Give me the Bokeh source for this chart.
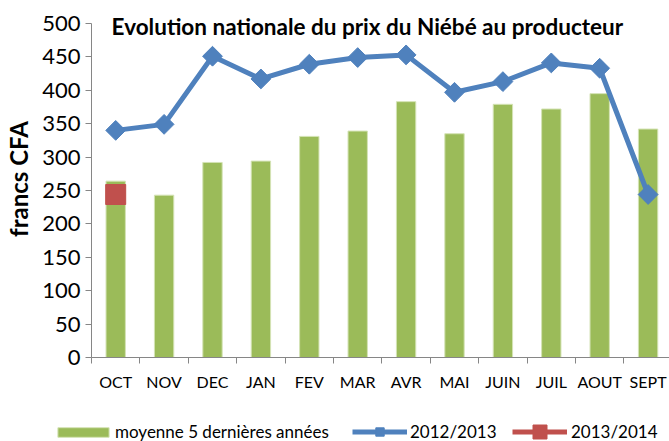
import math
from bokeh.plotting import figure
from bokeh.layouts import column
from bokeh.models import Range1d, FixedTicker, Label, Legend, LegendItem
from bokeh.embed import file_html
from bokeh.resources import INLINE

months = ["OCT", "NOV", "DEC", "JAN", "FEV", "MAR", "AVR", "MAI", "JUIN", "JUIL", "AOUT", "SEPT"]
moyenne_5ans = [264, 243, 292, 294, 331, 339, 383, 335, 379, 372, 395, 342]
prix_2012_2013 = [340, 349, 451, 417, 439, 449, 453, 397, 413, 441, 433, 244]
prix_2013_2014 = [244]
y_ticks = list(range(0, 501, 50))
series_names = ["moyenne 5 dernières années", "2012/2013", "2013/2014"]

FONT = "Lato"
GREEN = "#9BBB59"
BLUE = "#4F81BD"
RED = "#C0504D"
AXIS = "#868686"

xc = [i + 0.5 for i in range(len(months))]
bounds = list(range(len(months) + 1))

W, H_MAIN, H_LEG = 669, 411, 30
LEFT, BOTTOM = 91, 54
frame_w = W - LEFT
frame_h = H_MAIN - BOTTOM
cat_px = 48.4
axis_px = 334  # pixel height of the 0..500 axis
y_max = 500

p = figure(width=W, height=H_MAIN, output_backend="svg", toolbar_location=None,
           x_range=Range1d(0, frame_w / cat_px),
           y_range=Range1d(0, y_max * frame_h / axis_px),
           min_border_left=LEFT, min_border_right=0, min_border_top=0,
           min_border_bottom=BOTTOM)
p.outline_line_color = None
p.grid.visible = False

bar_style = dict(fill_color=GREEN, line_color="#d4e3b5", line_width=1)
blue_line = dict(line_color=BLUE, line_width=5)
blue_mark = dict(marker="square", angle=math.pi / 4, fill_color=BLUE, line_color=BLUE)
red_line = dict(line_color=RED, line_width=5)
red_mark = dict(marker="square", fill_color=RED, line_color=RED)

p.vbar(x=xc, top=moyenne_5ans, width=0.4, **bar_style)
p.line(xc, prix_2012_2013, **blue_line)
p.scatter(xc, prix_2012_2013, size=14, **blue_mark)
n2 = len(prix_2013_2014)
p.line(xc[:n2], prix_2013_2014, **red_line)
p.scatter(xc[:n2], prix_2013_2014, size=20, **red_mark)

# x axis
xa = p.xaxis[0]
xa.ticker = FixedTicker(ticks=xc, minor_ticks=bounds)
xa.major_label_overrides = {x: m for x, m in zip(xc, months)}
xa.major_tick_out = 0
xa.major_tick_in = 0
xa.minor_tick_out = 6
xa.minor_tick_in = 0
xa.minor_tick_line_color = AXIS
xa.axis_line_color = AXIS
xa.major_label_standoff = 8
xa.major_label_text_font = FONT
xa.major_label_text_font_size = "16px"
xa.major_label_text_color = "black"

# y axis
ya = p.yaxis[0]
ya.ticker = FixedTicker(ticks=y_ticks)
ya.bounds = (0, y_max)
ya.minor_tick_line_color = None
ya.major_tick_out = 6
ya.major_tick_in = 0
ya.major_tick_line_color = AXIS
ya.axis_line_color = AXIS
ya.major_label_standoff = 5
ya.major_label_text_font = FONT
ya.major_label_text_font_size = "22px"
ya.major_label_text_color = "black"
ya.axis_label = "francs CFA"
ya.axis_label_text_font = FONT
ya.axis_label_text_font_style = "bold"
ya.axis_label_text_font_size = "24px"
ya.axis_label_text_color = "black"
ya.axis_label_standoff = 6

title = Label(x=5.70, y=496, text="Evolution nationale du prix du Niébé au producteur",
              text_font=FONT, text_font_style="bold", text_font_size="22.5px",
              text_align="center", text_baseline="alphabetic", text_color="black")
p.add_layout(title)

# legend strip (proxy renderers fall outside its visible range)
pl = figure(width=W, height=H_LEG, output_backend="svg", toolbar_location=None,
            x_range=Range1d(0, 1), y_range=Range1d(1000, 1001),
            min_border_left=0, min_border_right=0, min_border_top=0, min_border_bottom=0)
pl.outline_line_color = None
pl.grid.visible = False
pl.axis.visible = False
try:
    pl.frame_align = False
except AttributeError:
    pass
rb = pl.vbar(x=xc, top=moyenne_5ans, width=0.4, **bar_style)
rl1 = pl.line(xc, prix_2012_2013, **blue_line)
rm1 = pl.scatter(xc, prix_2012_2013, **blue_mark)
rl2 = pl.line(xc[:n2], prix_2013_2014, **red_line)
rm2 = pl.scatter(xc[:n2], prix_2013_2014, **red_mark)


def make_legend(label, renderers, loc, gw, gh, standoff):
    lg = Legend(items=[LegendItem(label=label, renderers=renderers)],
                orientation="horizontal", location=loc)
    lg.background_fill_alpha = 0
    lg.border_line_color = None
    lg.label_text_font = FONT
    lg.label_text_font_size = "17px"
    lg.label_text_color = "black"
    lg.glyph_width = gw
    lg.glyph_height = gh
    lg.label_standoff = standoff
    lg.padding = 0
    lg.margin = 0
    lg.spacing = 0
    pl.add_layout(lg)


make_legend(series_names[0], [rb], (51, -1), 64, 12, 0)
make_legend(series_names[1], [rl1, rm1], (352, -1), 55, 21, 3)
make_legend(series_names[2], [rl2, rm2], (512, -8), 55, 35, 4)

layout = column(p, pl, spacing=0)
open("out.html", "w").write(file_html(layout, INLINE))
